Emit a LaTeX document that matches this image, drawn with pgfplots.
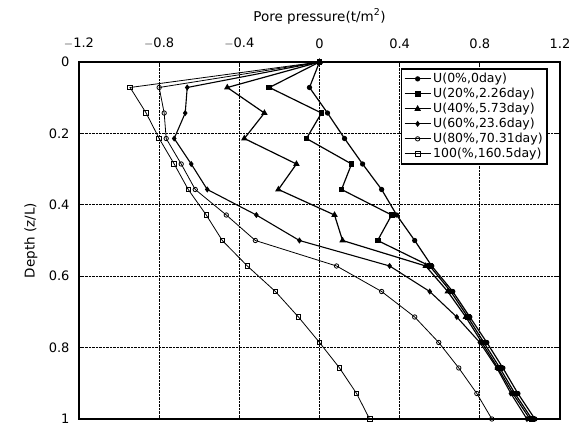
\documentclass[border=0pt]{standalone}
\usepackage{fontspec}
\setmainfont{DejaVu Sans}
\usepackage{pgfplots}
\pgfplotsset{compat=1.18}
\begin{document}
\begin{tikzpicture}
\begin{axis}[
  name=ax,
  scale only axis,
  width=481pt, height=357pt,
  xmin=-1.2, xmax=1.2, ymin=0, ymax=1,
  y dir=reverse,
  xtick={-1.2,-0.8,-0.4,0,0.4,0.8,1.2},
  xticklabels={$-$1.2,$-$0.8,$-$0.4,0,0.4,0.8,1.2},
  ytick={0,0.2,0.4,0.6,0.8,1},
  yticklabels={0,0.2,0.4,0.6,0.8,1},
  xticklabel pos=upper,
  xlabel={Pore pressure(t/m$^{\mathrm{2}}$)},
  ylabel={Depth (z/L)},
  xlabel style={at={(axis description cs:0.5,1.128)}, anchor=center},
  ylabel style={at={(axis description cs:-0.1,0.5)}, anchor=center},
  /pgf/number format/assume math mode=true,
  tick label style={font=\fontsize{13}{15}\selectfont},
  xticklabel style={yshift=10pt},
  yticklabel style={xshift=-6pt},
  label style={font=\fontsize{13.5}{16}\selectfont},
  grid=major,
  major grid style={black, densely dotted, line width=0.9pt},
  axis line style={line width=1.6pt},
  tick style={black, line width=0.8pt},
  tick align=inside,
  legend image code/.code={\draw[mark repeat=2,mark phase=2,#1] plot coordinates {(0pt,0pt)(13pt,0pt)(26pt,0pt)};},
  legend style={at={(rel axis cs:0.975,0.983)}, anchor=north east, draw=black, line width=1.6pt,
    font=\fontsize{12.5}{14}\selectfont, row sep=0pt, inner sep=2.5pt, cells={anchor=west}},
  legend cell align=left,
]
% U(0%,0day)
\addplot[black, line width=1.2pt, mark=*, mark size=2pt] coordinates {
(0,0) (-0.05,0.0714) (0.04,0.1429) (0.125,0.2143) (0.215,0.2857) (0.31,0.3571) (0.385,0.4286) (0.475,0.5) (0.56,0.5714) (0.665,0.6429) (0.75,0.7143) (0.835,0.7857) (0.915,0.8571) (0.99,0.9286) (1.075,1)};
\addlegendentry{U(0\%,0day)}
% U(20%,2.26day)
\addplot[black, line width=1.2pt, mark=square*, mark size=2.3pt] coordinates {
(0,0) (-0.25,0.0714) (0.01,0.1429) (-0.065,0.2143) (0.16,0.2857) (0.11,0.3571) (0.36,0.4286) (0.29,0.5) (0.55,0.5714) (0.655,0.6429) (0.74,0.7143) (0.82,0.7857) (0.90,0.8571) (0.975,0.9286) (1.06,1)};
\addlegendentry{U(20\%,2.26day)}
% U(40%,5.73day)
\addplot[black, line width=1.2pt, mark=triangle*, mark size=2.6pt] coordinates {
(0,0) (-0.46,0.0714) (-0.275,0.1429) (-0.375,0.2143) (-0.115,0.2857) (-0.205,0.3571) (0.075,0.4286) (0.115,0.5) (0.53,0.5714) (0.64,0.6429) (0.73,0.7143) (0.81,0.7857) (0.89,0.8571) (0.965,0.9286) (1.05,1)};
\addlegendentry{U(40\%,5.73day)}
% U(60%,23.6day)
\addplot[black, line width=1.1pt, mark=diamond*, mark size=2.2pt] coordinates {
(0,0) (-0.66,0.0714) (-0.67,0.1429) (-0.725,0.2143) (-0.64,0.2857) (-0.56,0.3571) (-0.315,0.4286) (-0.1,0.5) (0.35,0.5714) (0.55,0.6429) (0.685,0.7143) (0.80,0.7857) (0.885,0.8571) (0.955,0.9286) (1.035,1)};
\addlegendentry{U(60\%,23.6day)}
% U(80%,70.31day)
\addplot[black, line width=0.8pt, mark=o, mark size=2.2pt, mark options={line width=0.8pt}] coordinates {
(0,0) (-0.80,0.0714) (-0.775,0.1429) (-0.765,0.2143) (-0.69,0.2857) (-0.62,0.3571) (-0.465,0.4286) (-0.32,0.5) (0.085,0.5714) (0.31,0.6429) (0.475,0.7143) (0.595,0.7857) (0.695,0.8571) (0.785,0.9286) (0.86,1)};
\addlegendentry{U(80\%,70.31day)}
% 100(%,160.5day)
\addplot[black, line width=0.8pt, mark=square, mark size=2.3pt, mark options={line width=0.8pt}] coordinates {
(0,0) (-0.945,0.0714) (-0.865,0.1429) (-0.80,0.2143) (-0.725,0.2857) (-0.655,0.3571) (-0.565,0.4286) (-0.485,0.5) (-0.36,0.5714) (-0.22,0.6429) (-0.105,0.7143) (0,0.7857) (0.10,0.8571) (0.185,0.9286) (0.25,1)};
\addlegendentry{100(\%,160.5day)}
\end{axis}
\pgfresetboundingbox
\path ([shift={(-79pt,-12pt)}]ax.south west) rectangle ([shift={(19pt,62pt)}]ax.north east);
\end{tikzpicture}
\end{document}
